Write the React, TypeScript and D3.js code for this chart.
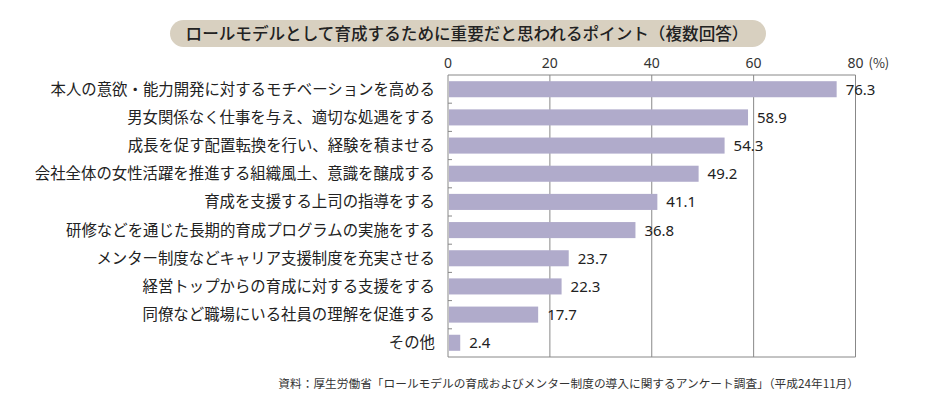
import React from "react";
import * as d3 from "d3";

const categories = [
  "本人の意欲・能力開発に対するモチベーションを高める",
  "男女関係なく仕事を与え、適切な処遇をする",
  "成長を促す配置転換を行い、経験を積ませる",
  "会社全体の女性活躍を推進する組織風土、意識を醸成する",
  "育成を支援する上司の指導をする",
  "研修などを通じた長期的育成プログラムの実施をする",
  "メンター制度などキャリア支援制度を充実させる",
  "経営トップからの育成に対する支援をする",
  "同僚など職場にいる社員の理解を促進する",
  "その他",
];
const values = [76.3, 58.9, 54.3, 49.2, 41.1, 36.8, 23.7, 22.3, 17.7, 2.4];
const ticks = [0, 20, 40, 60, 80];
const title = "ロールモデルとして育成するために重要だと思われるポイント（複数回答）";
const source = "資料：厚生労働省「ロールモデルの育成およびメンター制度の導入に関するアンケート調査」（平成24年11月）";

const W = 940, H = 409;
const left = 448, right = 855.5, top = 75, bottom = 357;

export default function App() {
  const x = d3.scaleLinear().domain([0, 80]).range([left, right]);
  const y = d3.scaleBand<number>().domain(d3.range(categories.length)).range([top, bottom]).paddingInner(0.43).paddingOuter(0.22);
  const rowH = (bottom - top) / categories.length;
  const font = "'Noto Sans CJK JP', sans-serif";
  return (
    <svg width={W} height={H} style={{ position: "absolute", left: 0, top: 0 }} fontFamily={font}>
      <rect x={0} y={0} width={W} height={H} fill="#fff" />
      <rect x={170} y={20} width={596} height={27} rx={13.5} fill="#d8d0c0" />
      <text x={467} y={39.5} textAnchor="middle" fontSize={16.6} fontWeight={500} fill="#222">{title}</text>
      {ticks.map((t) => (
        <g key={t}>
          {t > 0 && <line x1={x(t)} x2={x(t)} y1={top} y2={bottom} stroke="#888" strokeWidth={1} />}
          <text x={x(t)} y={68} textAnchor="middle" fontSize={14} fill="#333" fontFamily="'Noto Sans', sans-serif">{t}</text>
        </g>
      ))}
      <text x={x(80) + 13} y={68} fontSize={13} fill="#333">(%)</text>
      <line x1={left} x2={right} y1={top} y2={top} stroke="#888" />
      <line x1={left} x2={right} y1={bottom} y2={bottom} stroke="#888" />
      <line x1={left} x2={left} y1={top} y2={bottom} stroke="#888" />
      {categories.slice(1).map((_, i) => (
        <line key={i} x1={left} x2={left + 4} y1={top + rowH * (i + 1)} y2={top + rowH * (i + 1)} stroke="#888" />
      ))}
      {categories.map((c, i) => (
        <g key={c}>
          <rect x={left + 1} y={y(i)!} width={x(values[i]) - left - 1} height={y.bandwidth()} fill="#b0abcb" />
          <text x={435} y={y(i)! + y.bandwidth() / 2 + 5.5} textAnchor="end" fontSize={15.4} fill="#222">{c}</text>
          <text x={x(values[i]) + 9} y={y(i)! + y.bandwidth() / 2 + 5.5} fontSize={15} fill="#222" fontFamily="'Noto Sans', sans-serif">{values[i].toFixed(1)}</text>
        </g>
      ))}
      <text x={859} y={388} textAnchor="end" fontSize={11.7} fill="#333">{source}</text>
    </svg>
  );
}
